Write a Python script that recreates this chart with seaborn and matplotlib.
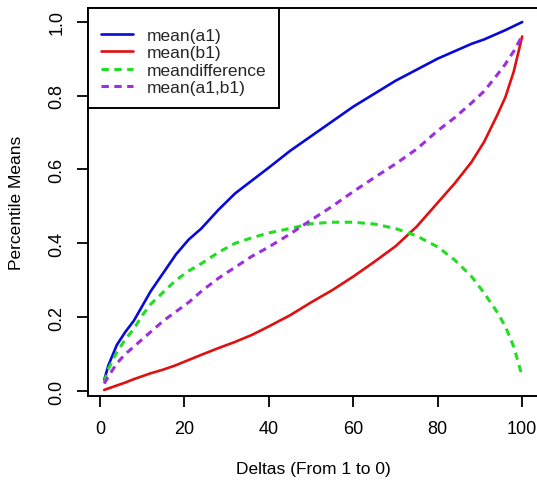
import numpy as np
import pandas as pd
import matplotlib
matplotlib.use("Agg")
import matplotlib.pyplot as plt
import seaborn as sns

# ---- data ----
deltas = [1, 2, 4, 6, 8, 10, 12, 15, 18, 21, 24, 28, 32, 36, 40, 45, 50, 55,
          60, 65, 70, 75, 80, 84, 88, 91, 94, 96, 98, 100]
mean_a1 = [0.03, 0.07, 0.125, 0.16, 0.19, 0.23, 0.27, 0.32, 0.37, 0.41, 0.44,
           0.49, 0.535, 0.57, 0.605, 0.65, 0.69, 0.73, 0.77, 0.805, 0.84, 0.87,
           0.90, 0.92, 0.94, 0.952, 0.967, 0.977, 0.988, 0.999]
mean_b1 = [0.003, 0.007, 0.015, 0.023, 0.032, 0.04, 0.048, 0.058, 0.07, 0.084,
           0.098, 0.116, 0.133, 0.152, 0.175, 0.205, 0.24, 0.273, 0.31, 0.35,
           0.392, 0.445, 0.51, 0.562, 0.62, 0.675, 0.745, 0.795, 0.865, 0.96]
mean_diff = [0.025, 0.06, 0.105, 0.14, 0.168, 0.205, 0.235, 0.268, 0.30, 0.325,
             0.345, 0.375, 0.40, 0.415, 0.428, 0.44, 0.453, 0.457, 0.457, 0.452,
             0.44, 0.42, 0.39, 0.355, 0.31, 0.265, 0.215, 0.175, 0.12, 0.04]
mean_ab = [0.02, 0.04, 0.075, 0.1, 0.12, 0.14, 0.16, 0.19, 0.215, 0.24, 0.27,
           0.305, 0.335, 0.365, 0.39, 0.425, 0.463, 0.5, 0.54, 0.578, 0.615,
           0.655, 0.705, 0.74, 0.78, 0.812, 0.855, 0.885, 0.92, 0.962]

labels = ["mean(a1)", "mean(b1)", "meandifference", "mean(a1,b1)"]
colors = ["#0a0ad8", "#e01010", "#22dd22", "#9a30e0"]

sns.set_theme(style="ticks")
plt.rcParams["font.family"] = ["Liberation Sans", "DejaVu Sans"]
plt.rcParams["axes.edgecolor"] = "black"

fig = plt.figure(figsize=(5.37, 4.81), dpi=100)
xmin, xmax = -2.96, 103.96
px_per_unit = 4.222
left_px = 100 + xmin * px_per_unit
right_px = 100 + xmax * px_per_unit
ax = fig.add_axes([left_px / 537, (481 - 397) / 481,
                   (right_px - left_px) / 537, 388 / 481])

series = [mean_a1, mean_b1, mean_diff, mean_ab]
dashed = [False, False, True, True]
for vals, lab, col, d in zip(series, labels, colors, dashed):
    kws = dict(linewidth=1.9)
    if d:
        kws["linestyle"] = (0, (2.4, 1.8))
        kws["linewidth"] = 2.2
    sns.lineplot(x=deltas, y=vals, color=col, label=lab, ax=ax, **kws)

ax.set_xlim(xmin, xmax)
ax.set_ylim(-0.0135, 1.037)
ax.set_xticks([0, 20, 40, 60, 80, 100])
ax.set_yticks([0.0, 0.2, 0.4, 0.6, 0.8, 1.0])
ax.set_yticklabels(["0.0", "0.2", "0.4", "0.6", "0.8", "1.0"])
ax.tick_params(axis="both", length=8, width=1.3, labelsize=13, colors="black")
ax.tick_params(axis="x", pad=9)
ax.tick_params(axis="y", pad=8, labelrotation=90)
for t in ax.get_yticklabels():
    t.set_va("center")
for s in ax.spines.values():
    s.set_linewidth(1.4)
    s.set_color("black")
ax.spines["right"].set_visible(False)

ax.set_xlabel("Deltas (From 1 to 0)", fontsize=12.5, color="black")
ax.set_ylabel("Percentile Means", fontsize=12.5, color="black")
ax.xaxis.label.set_va("center")
ax.yaxis.label.set_va("center")
ax.xaxis.set_label_coords(0.5, (397 - 470) / 388)
ax.yaxis.set_label_coords((17 - left_px) / (right_px - left_px), 0.5)

leg = ax.legend(loc="upper left", borderaxespad=0, fancybox=False,
                fontsize=12.5, handlelength=1.85, handletextpad=0.8,
                borderpad=0.75, labelspacing=0.14, framealpha=1,
                title=" ", title_fontsize=3)
leg.get_frame().set_edgecolor("black")
leg.get_frame().set_linewidth(1.4)

fig.savefig("out.png", dpi=100)
